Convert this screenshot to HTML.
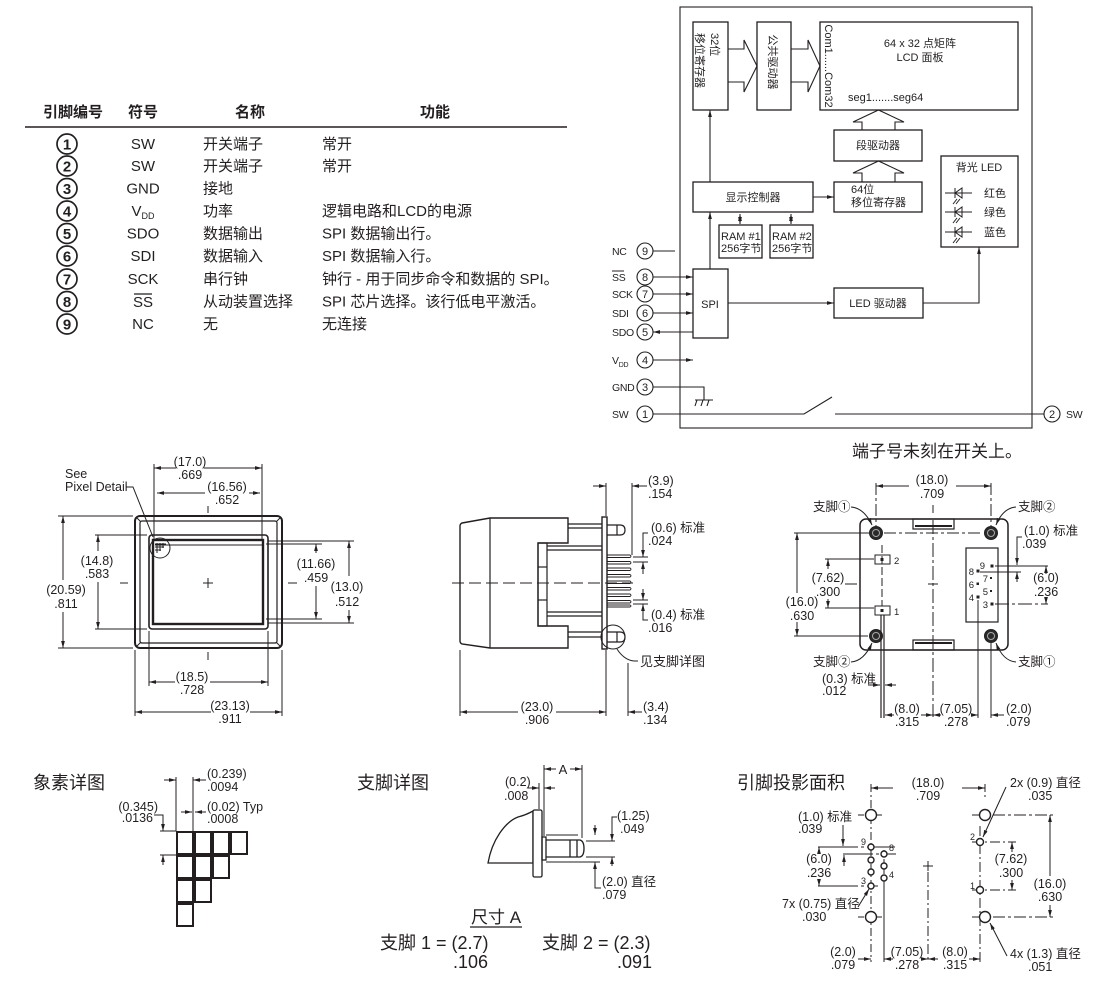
<!DOCTYPE html>
<html><head><meta charset="utf-8"><style>
html,body{margin:0;padding:0;background:#fff;}
svg{display:block;}
text{font-family:"Liberation Sans","Noto Sans CJK SC",sans-serif;fill:#231f20;stroke:none;}
</style></head><body>
<svg width="1100" height="982" viewBox="0 0 1100 982" xmlns="http://www.w3.org/2000/svg">
<defs>
<marker id="ar" viewBox="0 0 10 10" refX="10" refY="5" markerWidth="7" markerHeight="7" markerUnits="userSpaceOnUse" orient="auto-start-reverse"><path d="M0,2.3L10,5L0,7.7z" fill="#231f20" stroke="none"/></marker>
</defs>

<!-- ===== PIN TABLE ===== -->
<g font-size="15" font-weight="bold" text-anchor="middle">
<text x="73" y="117">引脚编号</text><text x="143" y="117">符号</text><text x="250" y="117">名称</text><text x="435" y="117">功能</text>
</g>
<line x1="25" y1="127" x2="567" y2="127" stroke="#231f20" stroke-width="1.5"/>
<g stroke="#231f20" stroke-width="1.7" fill="none">
<circle cx="67" cy="144" r="10"/><circle cx="67" cy="166" r="10"/><circle cx="67" cy="188.5" r="10"/><circle cx="67" cy="211" r="10"/><circle cx="67" cy="233.5" r="10"/><circle cx="67" cy="256" r="10"/><circle cx="67" cy="279" r="10"/><circle cx="67" cy="301.5" r="10"/><circle cx="67" cy="324" r="10"/>
</g>
<g font-size="15" font-weight="bold" text-anchor="middle">
<text x="67" y="149.5">1</text><text x="67" y="171.5">2</text><text x="67" y="194">3</text><text x="67" y="216.5">4</text><text x="67" y="239">5</text><text x="67" y="261.5">6</text><text x="67" y="284.5">7</text><text x="67" y="307">8</text><text x="67" y="329.5">9</text>
</g>
<g font-size="15" text-anchor="middle">
<text x="143" y="149">SW</text><text x="143" y="171">SW</text><text x="143" y="193.5">GND</text>
<text x="143" y="216"><tspan>V</tspan><tspan font-size="9" dy="3">DD</tspan></text>
<text x="143" y="238.5">SDO</text><text x="143" y="261">SDI</text><text x="143" y="284">SCK</text><text x="143" y="307">SS</text><text x="143" y="329">NC</text>
</g>
<line x1="134" y1="294" x2="152" y2="294" stroke="#231f20" stroke-width="1.2"/>
<g font-size="15">
<text x="203" y="149">开关端子</text><text x="203" y="171">开关端子</text><text x="203" y="193.5">接地</text><text x="203" y="216">功率</text><text x="203" y="238.5">数据输出</text><text x="203" y="261">数据输入</text><text x="203" y="284">串行钟</text><text x="203" y="306.5">从动装置选择</text><text x="203" y="329">无</text>
</g>
<g font-size="15">
<text x="322" y="149">常开</text><text x="322" y="171">常开</text><text x="322" y="216">逻辑电路和LCD的电源</text><text x="322" y="238.5">SPI 数据输出行。</text><text x="322" y="261">SPI 数据输入行。</text><text x="322" y="284">钟行 - 用于同步命令和数据的 SPI。</text><text x="322" y="306.5">SPI 芯片选择。该行低电平激活。</text><text x="322" y="329">无连接</text>
</g>

<!-- ===== BLOCK DIAGRAM ===== -->
<g stroke="#231f20" stroke-width="1.1" fill="none">
<rect x="680" y="7" width="352" height="421"/>
<rect x="693" y="22" width="35" height="88" stroke-width="1.3"/>
<rect x="757" y="22" width="34" height="88" stroke-width="1.3"/>
<rect x="820" y="22" width="198" height="88" stroke-width="1.3"/>
<polyline points="728,49 744,49 744,40 757,66 744,92 744,82 728,82"/>
<polyline points="791,49 808,49 808,40 820,66 808,92 808,82 791,82"/>
<polyline points="862,130 862,122 853,122 878.5,110 904,122 895,122 895,130"/>
<polyline points="862,182 862,173 853,173 878.5,161 904,173 895,173 895,182"/>
<rect x="834" y="130" width="88" height="31" stroke-width="1.3"/>
<rect x="834" y="182" width="88" height="30" stroke-width="1.3"/>
<rect x="693" y="182" width="120" height="30" stroke-width="1.3"/>
<rect x="719" y="225" width="43" height="33" stroke-width="1.3"/>
<rect x="770" y="225" width="43" height="33" stroke-width="1.3"/>
<rect x="941" y="156" width="77" height="91" stroke-width="1.3"/>
<rect x="693" y="269" width="35" height="69" stroke-width="1.3"/>
<rect x="834" y="288" width="89" height="30" stroke-width="1.3"/>
<line x1="813" y1="197" x2="834" y2="197" marker-end="url(#ar)"/>
<line x1="710" y1="182" x2="710" y2="110" marker-end="url(#ar)"/>
<line x1="710" y1="269" x2="710" y2="212" marker-end="url(#ar)"/>
<line x1="740" y1="214" x2="740" y2="224" marker-start="url(#ar)" marker-end="url(#ar)"/>
<line x1="791" y1="214" x2="791" y2="224" marker-start="url(#ar)" marker-end="url(#ar)"/>
<line x1="728" y1="303" x2="834" y2="303" marker-end="url(#ar)"/>
<polyline points="923,303 979,303 979,247" marker-end="url(#ar)"/>
<!-- LEDs -->
<g stroke-width="1">
<line x1="945" y1="193" x2="972" y2="193"/><polygon points="962,188 962,198 955,193"/><line x1="955" y1="188" x2="955" y2="198"/><line x1="957" y1="199" x2="953" y2="204"/><line x1="960" y1="199" x2="956" y2="204"/>
<line x1="945" y1="212" x2="972" y2="212"/><polygon points="962,207 962,217 955,212"/><line x1="955" y1="207" x2="955" y2="217"/><line x1="957" y1="218" x2="953" y2="223"/><line x1="960" y1="218" x2="956" y2="223"/>
<line x1="945" y1="232" x2="972" y2="232"/><polygon points="962,227 962,237 955,232"/><line x1="955" y1="227" x2="955" y2="237"/><line x1="957" y1="238" x2="953" y2="243"/><line x1="960" y1="238" x2="956" y2="243"/>
</g>
<!-- pins -->
<circle cx="645" cy="251" r="8"/><circle cx="645" cy="277" r="8"/><circle cx="645" cy="294" r="8"/><circle cx="645" cy="313" r="8"/><circle cx="645" cy="332" r="8"/><circle cx="645" cy="360" r="8"/><circle cx="645" cy="387" r="8"/><circle cx="645" cy="414" r="8"/><circle cx="1052" cy="414" r="8"/>
<line x1="653" y1="251" x2="675" y2="251"/>
<line x1="653" y1="277" x2="693" y2="277" marker-end="url(#ar)"/>
<line x1="653" y1="294" x2="693" y2="294" marker-end="url(#ar)"/>
<line x1="653" y1="313" x2="693" y2="313" marker-end="url(#ar)"/>
<line x1="693" y1="332" x2="653" y2="332" marker-end="url(#ar)"/>
<line x1="653" y1="360" x2="693" y2="360" marker-end="url(#ar)"/>
<polyline points="653,387 704,387 704,400"/>
<line x1="695" y1="400" x2="713" y2="400"/>
<line x1="697" y1="400" x2="695" y2="406"/><line x1="703" y1="400" x2="701" y2="406"/><line x1="709" y1="400" x2="707" y2="406"/>
<polyline points="653,414 804,414 832,397"/>
<line x1="835" y1="414" x2="1044" y2="414"/>
</g>
<g font-size="11" text-anchor="middle">
<text x="0" y="0" transform="rotate(90 710 63)"><tspan x="680" y="62" text-anchor="start">32位</tspan><tspan x="680" y="77" text-anchor="start">移位寄存器</tspan></text>
<text x="774" y="67" transform="rotate(90 774 62)">公共驱动器</text>
<text x="829" y="70" transform="rotate(90 829 66)">Com1......Com32</text>
<text x="920" y="47">64 x 32 点矩阵</text><text x="920" y="61">LCD 面板</text>
<text x="878" y="149">段驱动器</text>
<text x="753" y="201">显示控制器</text>
<text x="979" y="171">背光 LED</text>
<text x="710" y="308">SPI</text>
<text x="878" y="307">LED 驱动器</text>
<text x="645" y="255">9</text><text x="645" y="281">8</text><text x="645" y="298">7</text><text x="645" y="317">6</text><text x="645" y="336">5</text><text x="645" y="364">4</text><text x="645" y="391">3</text><text x="645" y="418">1</text><text x="1052" y="418">2</text>
</g>
<g font-size="11">
<text x="848" y="101">seg1.......seg64</text>
<text x="851" y="193">64位</text><text x="851" y="206">移位寄存器</text>
<text x="721" y="240">RAM #1</text><text x="721" y="252">256字节</text>
<text x="772" y="240">RAM #2</text><text x="772" y="252">256字节</text>
<text x="984" y="197">红色</text><text x="984" y="216">绿色</text><text x="984" y="236">蓝色</text>
</g>
<g font-size="10.5" letter-spacing="-0.3">
<text x="612" y="255">NC</text><text x="612" y="281">SS</text><text x="612" y="298">SCK</text><text x="612" y="317">SDI</text><text x="612" y="336">SDO</text>
<text x="612" y="364">V<tspan font-size="7" dy="3">DD</tspan></text>
<text x="612" y="391">GND</text><text x="612" y="418">SW</text><text x="1066" y="418">SW</text>
</g>
<line x1="612" y1="271" x2="624" y2="271" stroke="#231f20" stroke-width="1"/>
<text x="852" y="457" font-size="17">端子号未刻在开关上。</text>

<!-- ===== FRONT VIEW ===== -->
<g stroke="#231f20" fill="none" stroke-width="1">
<rect x="135" y="516" width="147" height="132" rx="5" stroke-width="2"/>
<rect x="140" y="521" width="137" height="122" rx="2" stroke-width="1.2"/>
<line x1="136" y1="517" x2="141" y2="522"/><line x1="281" y1="517" x2="276" y2="522"/><line x1="136" y1="647" x2="141" y2="642"/><line x1="281" y1="647" x2="276" y2="642"/>
<rect x="149" y="535" width="119" height="94" rx="3" stroke-width="1.6"/>
<rect x="153" y="540" width="110" height="84" stroke-width="2.4"/>
<line x1="155" y1="545" x2="262" y2="545"/>
<line x1="203" y1="583" x2="213" y2="583"/><line x1="208" y1="578" x2="208" y2="588"/>
<line x1="208" y1="506" x2="208" y2="513"/><line x1="208" y1="652" x2="208" y2="660"/>
<line x1="120" y1="583" x2="128" y2="583"/><line x1="288" y1="583" x2="297" y2="583"/>
<!-- 17.0 -->
<line x1="154" y1="464" x2="154" y2="540"/><line x1="262" y1="464" x2="262" y2="540"/>
<line x1="176" y1="468" x2="154" y2="468" marker-end="url(#ar)"/><line x1="204" y1="468" x2="262" y2="468" marker-end="url(#ar)"/>
<!-- 16.56 -->
<line x1="205" y1="493" x2="157" y2="493" marker-end="url(#ar)"/><line x1="249" y1="493" x2="260" y2="493" marker-end="url(#ar)"/>
<!-- see pixel -->
<polyline points="126,487 133,487 153,537"/>
<circle cx="160" cy="548" r="10"/>
<path d="M155,544 L166,544 M155,547 L164,547 M155,550 L161,550 M157,543 L157,553 M160,543 L160,551 M163,543 L163,548"/>
<!-- 20.59 -->
<line x1="58" y1="516" x2="133" y2="516"/><line x1="58" y1="648" x2="133" y2="648"/>
<line x1="63" y1="580" x2="63" y2="516" marker-end="url(#ar)"/><line x1="63" y1="612" x2="63" y2="648" marker-end="url(#ar)"/>
<!-- 14.8 -->
<line x1="95" y1="535" x2="147" y2="535"/><line x1="95" y1="629" x2="147" y2="629"/>
<line x1="98" y1="551" x2="98" y2="535" marker-end="url(#ar)"/><line x1="98" y1="582" x2="98" y2="629" marker-end="url(#ar)"/>
<!-- 11.66 -->
<line x1="266" y1="544" x2="322" y2="544"/><line x1="266" y1="619" x2="322" y2="619"/>
<line x1="316" y1="553" x2="316" y2="544" marker-end="url(#ar)"/><line x1="316" y1="586" x2="316" y2="619" marker-end="url(#ar)"/>
<!-- 13.0 -->
<line x1="268" y1="541" x2="354" y2="541"/><line x1="268" y1="623" x2="354" y2="623"/>
<line x1="349" y1="576" x2="349" y2="541" marker-end="url(#ar)"/><line x1="349" y1="610" x2="349" y2="623" marker-end="url(#ar)"/>
<!-- 18.5 -->
<line x1="149" y1="631" x2="149" y2="686"/><line x1="268" y1="631" x2="268" y2="686"/>
<line x1="175" y1="682" x2="149" y2="682" marker-end="url(#ar)"/><line x1="210" y1="682" x2="268" y2="682" marker-end="url(#ar)"/>
<!-- 23.13 -->
<line x1="135" y1="650" x2="135" y2="716"/><line x1="282" y1="650" x2="282" y2="716"/>
<line x1="211" y1="712" x2="135" y2="712" marker-end="url(#ar)"/><line x1="250" y1="712" x2="282" y2="712" marker-end="url(#ar)"/>
</g>
<g font-size="12.5" text-anchor="middle">
<text x="190" y="466">(17.0)</text><text x="190" y="479">.669</text>
<text x="227" y="491">(16.56)</text><text x="227" y="504">.652</text>
<text x="66" y="594">(20.59)</text><text x="66" y="608">.811</text>
<text x="97" y="565">(14.8)</text><text x="97" y="578">.583</text>
<text x="316" y="568">(11.66)</text><text x="316" y="582">.459</text>
<text x="347" y="591">(13.0)</text><text x="347" y="606">.512</text>
<text x="192" y="681">(18.5)</text><text x="192" y="694">.728</text>
<text x="230" y="710">(23.13)</text><text x="230" y="723">.911</text>
</g>
<g font-size="12.5"><text x="65" y="478">See</text><text x="65" y="491">Pixel Detail</text></g>

<!-- ===== SIDE VIEW ===== -->
<g stroke="#231f20" fill="none" stroke-width="1.2">
<path d="M462,523 L490,518 L568,518 L568,543 L538,543 L538,626 L568,626 L568,648 L490,648 L462,644 Q460,643 460,641 L460,526 Q460,524 462,523 Z" stroke-width="1.4"/>
<line x1="490" y1="518" x2="490" y2="648"/>
<rect x="538" y="543" width="9" height="83"/>
<line x1="538" y1="567" x2="547" y2="567"/><line x1="538" y1="600" x2="547" y2="600"/>
<line x1="547" y1="546" x2="602" y2="546"/><line x1="547" y1="550" x2="602" y2="550"/>
<line x1="547" y1="612" x2="602" y2="612"/><line x1="547" y1="616" x2="602" y2="616"/>
<line x1="568" y1="524" x2="602" y2="524"/><line x1="568" y1="528" x2="602" y2="528"/>
<line x1="568" y1="632" x2="602" y2="632"/><line x1="568" y1="637" x2="602" y2="637"/>
<rect x="602" y="517" width="5" height="132" fill="#fff" stroke-width="1.4"/>
<path d="M607,525 L620,525 Q625,525 625,530 Q625,535 620,535 L607,535"/><line x1="617" y1="525" x2="617" y2="535"/>
<path d="M607,632 L620,632 Q625,632 625,637 Q625,642 620,642 L607,642"/><line x1="617" y1="632" x2="617" y2="642"/>
<g stroke-width="0.9">
<path d="M607,555 L630,555 Q632,556.2 630,557.5 L607,557.5"/>
<path d="M607,561.5 L630,561.5 Q632,562.7 630,564 L607,564"/>
<path d="M607,568 L630,568 Q632,569.2 630,570.5 L607,570.5"/>
<path d="M607,574.5 L630,574.5 Q632,575.7 630,577 L607,577"/>
<path d="M607,581 L630,581 Q632,582.2 630,583.5 L607,583.5"/>
<path d="M607,587.5 L630,587.5 Q632,588.7 630,590 L607,590"/>
<path d="M607,594 L630,594 Q632,595.2 630,596.5 L607,596.5"/>
<path d="M607,600.5 L630,600.5 Q632,601.7 630,603 L607,603"/>
<path d="M607,605 L630,605 Q632,606 630,607 L607,607"/>
</g>
<line x1="452" y1="583" x2="633" y2="583" stroke-dasharray="12 5" stroke-width="1"/>
<circle cx="613" cy="637" r="12" stroke-width="1"/>
<path d="M617,649 Q624,660 634,661 L638,661" stroke-width="1"/>
<g stroke-width="1">
<line x1="606" y1="483" x2="606" y2="516"/><line x1="632" y1="483" x2="632" y2="555"/>
<line x1="593" y1="486" x2="606" y2="486" marker-end="url(#ar)"/><line x1="647" y1="486" x2="632" y2="486" marker-end="url(#ar)"/>
<line x1="633" y1="557" x2="648" y2="557"/><line x1="633" y1="562" x2="648" y2="562"/>
<polyline points="648,533 643,533 643,557" marker-end="url(#ar)"/><line x1="643" y1="574" x2="643" y2="562" marker-end="url(#ar)"/>
<line x1="633" y1="600" x2="648" y2="600"/><line x1="633" y1="604" x2="648" y2="604"/>
<line x1="643" y1="589" x2="643" y2="600" marker-end="url(#ar)"/><polyline points="648,620 643,620 643,604" marker-end="url(#ar)"/>
<line x1="460" y1="650" x2="460" y2="716"/><line x1="606" y1="650" x2="606" y2="716"/><line x1="628" y1="663" x2="628" y2="716"/>
<line x1="518" y1="712" x2="460" y2="712" marker-end="url(#ar)"/><line x1="556" y1="712" x2="606" y2="712" marker-end="url(#ar)"/>
<line x1="642" y1="712" x2="628" y2="712" marker-end="url(#ar)"/>
</g>
</g>
<g font-size="12.5">
<text x="648" y="485">(3.9)</text><text x="648" y="498">.154</text>
<text x="651" y="532">(0.6) 标准</text><text x="648" y="545">.024</text>
<text x="651" y="619">(0.4) 标准</text><text x="648" y="632">.016</text>
<text x="643" y="711">(3.4)</text><text x="643" y="724">.134</text>
<text x="537" y="711" text-anchor="middle">(23.0)</text><text x="537" y="724" text-anchor="middle">.906</text>
</g>
<text x="640" y="666" font-size="13">见支脚详图</text>

<!-- ===== BACK VIEW ===== -->
<g stroke="#231f20" fill="none" stroke-width="1">
<rect x="860" y="519" width="148" height="131" rx="6" stroke-width="1.5"/>
<rect x="913" y="519" width="41" height="10" stroke-width="1.2"/><line x1="915" y1="526" x2="952" y2="526" stroke-width="2"/>
<rect x="913" y="640" width="41" height="10" stroke-width="1.2"/><line x1="915" y1="643" x2="952" y2="643" stroke-width="2"/>
<line x1="876" y1="483" x2="876" y2="526" stroke-dasharray="12 3 3 3"/><line x1="991" y1="483" x2="991" y2="526" stroke-dasharray="12 3 3 3"/>
<line x1="933" y1="505" x2="933" y2="513"/>
<line x1="933" y1="520" x2="933" y2="717" stroke-dasharray="14 3 3 3"/>
<line x1="928" y1="584" x2="938" y2="584"/>
<line x1="845" y1="584" x2="857" y2="584"/>
<line x1="882" y1="545" x2="882" y2="606" stroke-dasharray="8 3"/>
<g>
<circle cx="876" cy="533" r="6.5" fill="#2a2a2a"/><circle cx="991" cy="533" r="6.5" fill="#2a2a2a"/><circle cx="876" cy="636" r="6.5" fill="#2a2a2a"/><circle cx="991" cy="636" r="6.5" fill="#2a2a2a"/>
<circle cx="876" cy="533" r="3.5" stroke="#aaa"/><circle cx="991" cy="533" r="3.5" stroke="#aaa"/><circle cx="876" cy="636" r="3.5" stroke="#aaa"/><circle cx="991" cy="636" r="3.5" stroke="#aaa"/>
</g>
<rect x="875" y="555" width="15" height="9"/><rect x="875" y="606" width="15" height="9"/>
<rect x="881" y="558.5" width="2" height="2" fill="#231f20"/><rect x="881" y="609.5" width="2" height="2" fill="#231f20"/>
<rect x="966" y="548" width="32" height="74" stroke-width="1.2"/>
<g fill="#231f20" stroke="none">
<rect x="990.5" y="564.5" width="3" height="3"/><rect x="976.5" y="569.5" width="3" height="3"/><rect x="990" y="577" width="2" height="2"/><rect x="976.5" y="582.5" width="2.5" height="2.5"/><rect x="990" y="590" width="2" height="2"/><rect x="976.5" y="595.5" width="3" height="3"/><rect x="990.5" y="602.5" width="3" height="3"/>
</g>
<line x1="909" y1="486" x2="876" y2="486" marker-end="url(#ar)"/><line x1="956" y1="486" x2="991" y2="486" marker-end="url(#ar)"/>
<path d="M851,507 Q864,508 872,525" marker-end="url(#ar)"/>
<path d="M1016,507 Q1003,508 996,525" marker-end="url(#ar)"/>
<path d="M851,662 Q864,661 872,643" marker-end="url(#ar)"/>
<path d="M1016,662 Q1003,661 996,643" marker-end="url(#ar)"/>
<line x1="794" y1="533" x2="870" y2="533"/><line x1="884" y1="533" x2="983" y2="533" stroke-dasharray="12 3 3 3"/>
<line x1="794" y1="636" x2="868" y2="636"/>
<line x1="797" y1="593" x2="797" y2="533" marker-end="url(#ar)"/><line x1="797" y1="622" x2="797" y2="636" marker-end="url(#ar)"/>
<line x1="825" y1="559" x2="874" y2="559"/><line x1="825" y1="608" x2="874" y2="608"/>
<line x1="828" y1="569" x2="828" y2="559" marker-end="url(#ar)"/><line x1="828" y1="599" x2="828" y2="608" marker-end="url(#ar)"/>
<polyline points="1022,537 1017,537 1017,565" marker-end="url(#ar)"/>
<line x1="995" y1="566" x2="1048" y2="566"/><line x1="980" y1="572" x2="1021" y2="572"/>
<line x1="1017" y1="582" x2="1017" y2="572" marker-end="url(#ar)"/>
<line x1="1046" y1="574" x2="1046" y2="566" marker-end="url(#ar)"/><line x1="1046" y1="598" x2="1046" y2="604" marker-end="url(#ar)"/>
<line x1="995" y1="604" x2="1048" y2="604" stroke-dasharray="14 3 3 3"/>
<line x1="881" y1="615" x2="881" y2="718" stroke-width="1.2"/><line x1="884" y1="615" x2="884" y2="718" stroke-width="1.2"/>
<line x1="868" y1="685" x2="880" y2="685" marker-end="url(#ar)"/><line x1="896" y1="685" x2="885" y2="685" marker-end="url(#ar)"/>
<line x1="978" y1="600" x2="978" y2="718"/><line x1="991" y1="643" x2="991" y2="718"/>
<line x1="894" y1="715" x2="885" y2="715" marker-end="url(#ar)"/><line x1="921" y1="715" x2="933" y2="715" marker-end="url(#ar)"/>
<line x1="941" y1="715" x2="933" y2="715" marker-end="url(#ar)"/><line x1="971" y1="715" x2="978" y2="715" marker-end="url(#ar)"/>
<line x1="1004" y1="715" x2="991" y2="715" marker-end="url(#ar)"/>
</g>
<g font-size="12.5" text-anchor="middle">
<text x="932" y="484">(18.0)</text><text x="932" y="498">.709</text>
<text x="802" y="606">(16.0)</text><text x="802" y="620">.630</text>
<text x="828" y="582">(7.62)</text><text x="828" y="596">.300</text>
<text x="1046" y="582">(6.0)</text><text x="1046" y="596">.236</text>
<text x="907" y="713">(8.0)</text><text x="907" y="726">.315</text>
<text x="956" y="713">(7.05)</text><text x="956" y="726">.278</text>
</g>
<g font-size="12.5">
<text x="813" y="511">支脚①</text><text x="1018" y="511">支脚②</text>
<text x="813" y="666">支脚②</text><text x="1018" y="666">支脚①</text>
<text x="1024" y="535">(1.0) 标准</text><text x="1022" y="548">.039</text>
<text x="822" y="683">(0.3) 标准</text><text x="822" y="695">.012</text>
<text x="1006" y="713">(2.0)</text><text x="1006" y="726">.079</text>
</g>
<g font-size="9.5">
<text x="894" y="564">2</text><text x="894" y="615">1</text>
<text x="985" y="569" text-anchor="end">9</text><text x="974" y="575" text-anchor="end">8</text><text x="988" y="582" text-anchor="end">7</text><text x="974" y="588" text-anchor="end">6</text><text x="988" y="595" text-anchor="end">5</text><text x="974" y="601" text-anchor="end">4</text><text x="988" y="608" text-anchor="end">3</text>
</g>

<!-- ===== PIXEL DETAIL ===== -->
<text x="33" y="789" font-size="18">象素详图</text>
<g stroke="#231f20" fill="none" stroke-width="2">
<rect x="177" y="832" width="16" height="22"/><rect x="195" y="832" width="16" height="22"/><rect x="213" y="832" width="16" height="22"/><rect x="231" y="832" width="16" height="22"/>
<rect x="177" y="856" width="16" height="22"/><rect x="195" y="856" width="16" height="22"/><rect x="213" y="856" width="16" height="22"/>
<rect x="177" y="880" width="16" height="22"/><rect x="195" y="880" width="16" height="22"/>
<rect x="177" y="904" width="16" height="22"/>
</g>
<g stroke="#231f20" fill="none" stroke-width="1">
<line x1="176" y1="777" x2="176" y2="831"/><line x1="193" y1="777" x2="193" y2="831"/>
<line x1="164" y1="780" x2="176" y2="780" marker-end="url(#ar)"/><line x1="206" y1="780" x2="193" y2="780" marker-end="url(#ar)"/>
<line x1="181" y1="812" x2="192" y2="812" marker-end="url(#ar)"/><line x1="206" y1="812" x2="195" y2="812" marker-end="url(#ar)"/>
<line x1="160" y1="831" x2="176" y2="831"/><line x1="160" y1="855" x2="176" y2="855"/>
<polyline points="154,815 163,815 163,831" marker-end="url(#ar)"/>
<line x1="163" y1="865" x2="163" y2="855" marker-end="url(#ar)"/>
</g>
<g font-size="12.5">
<text x="207" y="778">(0.239)</text><text x="207" y="791">.0094</text>
<text x="207" y="811">(0.02) Typ</text><text x="207" y="823">.0008</text>
<text x="158" y="811" text-anchor="end">(0.345)</text><text x="153" y="822" text-anchor="end">.0136</text>
</g>

<!-- ===== LEG DETAIL ===== -->
<text x="357" y="789" font-size="18">支脚详图</text>
<g stroke="#231f20" fill="none" stroke-width="1.3">
<path d="M488,863 C492,840 505,822 518,817 Q526,815 533,811 L533,863 Z"/>
<rect x="533" y="810" width="9" height="67" rx="1.5" fill="#fff"/>
<rect x="542" y="837" width="4" height="23"/>
<path d="M546,840 L580,840 Q584,841 584,848.5 Q584,856 580,857 L546,857"/>
<line x1="570" y1="840" x2="570" y2="857"/><line x1="577" y1="840" x2="577" y2="857"/>
</g>
<g stroke="#231f20" fill="none" stroke-width="1">
<line x1="544" y1="765" x2="544" y2="836"/><line x1="582" y1="765" x2="582" y2="838"/>
<line x1="556" y1="769" x2="544" y2="769" marker-end="url(#ar)"/><line x1="570" y1="769" x2="582" y2="769" marker-end="url(#ar)"/>
<line x1="539" y1="783" x2="539" y2="809"/>
<line x1="528" y1="788" x2="539" y2="788" marker-end="url(#ar)"/><line x1="555" y1="788" x2="544" y2="788" marker-end="url(#ar)"/>
<line x1="546" y1="835" x2="578" y2="835"/><line x1="546" y1="862" x2="600" y2="862"/>
<line x1="586" y1="841" x2="615" y2="841"/><line x1="586" y1="857" x2="615" y2="857"/>
<line x1="595" y1="825" x2="595" y2="835" marker-end="url(#ar)"/>
<polyline points="617,817 612,817 612,841" marker-end="url(#ar)"/>
<line x1="612" y1="866" x2="612" y2="857" marker-end="url(#ar)"/>
<polyline points="601,888 595,888 595,862" marker-end="url(#ar)"/>
<line x1="470" y1="927" x2="522" y2="927" stroke-width="1.3"/>
</g>
<text x="563" y="774" font-size="13" text-anchor="middle">A</text>
<g font-size="12.5">
<text x="505" y="786">(0.2)</text><text x="504" y="800">.008</text>
<text x="617" y="820">(1.25)</text><text x="620" y="833">.049</text>
<text x="602" y="886">(2.0) 直径</text><text x="602" y="899">.079</text>
</g>
<text x="496" y="923" font-size="17" text-anchor="middle">尺寸 A</text>
<g font-size="18">
<text x="380" y="949">支脚 1 = (2.7)</text><text x="453" y="968">.106</text>
<text x="542" y="949">支脚 2 = (2.3)</text><text x="617" y="968">.091</text>
</g>

<!-- ===== FOOTPRINT ===== -->
<text x="737" y="789" font-size="18">引脚投影面积</text>
<g stroke="#231f20" fill="none" stroke-width="1">
<line x1="871" y1="784" x2="871" y2="962" stroke-dasharray="8 3 2 3"/>
<line x1="985" y1="784" x2="985" y2="800" stroke-dasharray="8 3 2 3"/>
<line x1="980" y1="826" x2="980" y2="962" stroke-dasharray="10 3 2 3"/>
<line x1="884" y1="850" x2="884" y2="880" stroke-dasharray="6 3"/>
<line x1="884" y1="880" x2="884" y2="962"/>
<line x1="928" y1="872" x2="928" y2="962" stroke-dasharray="10 3 2 3"/>
<line x1="923" y1="866" x2="933" y2="866"/><line x1="928" y1="861" x2="928" y2="871"/>
<line x1="858" y1="815" x2="884" y2="815" stroke-dasharray="6 3"/><line x1="972" y1="815" x2="1053" y2="815" stroke-dasharray="12 3 3 3"/>
<line x1="858" y1="917" x2="884" y2="917" stroke-dasharray="6 3"/><line x1="972" y1="917" x2="1053" y2="917" stroke-dasharray="12 3 3 3"/>
<line x1="972" y1="842" x2="1016" y2="842" stroke-dasharray="10 3 2 3"/><line x1="972" y1="890" x2="1016" y2="890" stroke-dasharray="10 3 2 3"/>
<line x1="818" y1="847" x2="895" y2="847" stroke-dasharray="40 3 3 3"/>
<line x1="843" y1="854" x2="896" y2="854" stroke-dasharray="30 3 3 3"/>
<line x1="818" y1="886" x2="878" y2="886" stroke-dasharray="40 3 3 3"/>
<g fill="#fff" stroke-width="1.4">
<circle cx="871" cy="815" r="5.5"/><circle cx="985" cy="815" r="5.5"/><circle cx="871" cy="917" r="5.5"/><circle cx="985" cy="917" r="5.5"/>
<circle cx="871" cy="847" r="3"/><circle cx="884" cy="854" r="3"/><circle cx="871" cy="860" r="3"/><circle cx="884" cy="866" r="3"/><circle cx="871" cy="872" r="3"/><circle cx="884" cy="878" r="3"/><circle cx="871" cy="886" r="3"/>
<circle cx="980" cy="842" r="3.5"/><circle cx="980" cy="890" r="3.5"/>
</g>
<line x1="893" y1="788" x2="871" y2="788" marker-end="url(#ar)"/><line x1="962" y1="788" x2="985" y2="788" marker-end="url(#ar)"/>
<line x1="843" y1="825" x2="843" y2="846" marker-end="url(#ar)"/>
<line x1="844" y1="866" x2="844" y2="855" marker-end="url(#ar)"/>
<line x1="819" y1="854" x2="819" y2="847" marker-end="url(#ar)"/><line x1="819" y1="880" x2="819" y2="886" marker-end="url(#ar)"/>
<line x1="858" y1="907" x2="869" y2="889" marker-end="url(#ar)"/>
<line x1="1006" y1="787" x2="983" y2="837" marker-end="url(#ar)"/>
<line x1="1012" y1="852" x2="1012" y2="842" marker-end="url(#ar)"/><line x1="1012" y1="880" x2="1012" y2="890" marker-end="url(#ar)"/>
<line x1="1050" y1="876" x2="1050" y2="815" marker-end="url(#ar)"/><line x1="1050" y1="905" x2="1050" y2="917" marker-end="url(#ar)"/>
<line x1="1007" y1="956" x2="990" y2="923" marker-end="url(#ar)"/>
<line x1="858" y1="959" x2="871" y2="959" marker-end="url(#ar)"/>
<line x1="893" y1="959" x2="884" y2="959" marker-end="url(#ar)"/>
<line x1="921" y1="959" x2="928" y2="959" marker-end="url(#ar)"/>
<line x1="938" y1="959" x2="928" y2="959" marker-end="url(#ar)"/>
<line x1="969" y1="959" x2="980" y2="959" marker-end="url(#ar)"/>
</g>
<g font-size="12.5" text-anchor="middle">
<text x="928" y="787">(18.0)</text><text x="928" y="800">.709</text>
<text x="819" y="863">(6.0)</text><text x="819" y="877">.236</text>
<text x="1011" y="863">(7.62)</text><text x="1011" y="877">.300</text>
<text x="1050" y="888">(16.0)</text><text x="1050" y="901">.630</text>
<text x="843" y="956">(2.0)</text><text x="843" y="969">.079</text>
<text x="907" y="956">(7.05)</text><text x="907" y="969">.278</text>
<text x="955" y="956">(8.0)</text><text x="955" y="969">.315</text>
</g>
<g font-size="12.5">
<text x="798" y="821">(1.0) 标准</text><text x="798" y="833">.039</text>
<text x="782" y="908">7x (0.75) 直径</text><text x="802" y="921">.030</text>
<text x="1010" y="787">2x (0.9) 直径</text><text x="1028" y="800">.035</text>
<text x="1010" y="958">4x (1.3) 直径</text><text x="1028" y="971">.051</text>
</g>
<g font-size="9">
<text x="866" y="845" text-anchor="end">9</text><text x="889" y="851">8</text><text x="866" y="884" text-anchor="end">3</text><text x="889" y="878">4</text>
<text x="975" y="840" text-anchor="end">2</text><text x="975" y="889" text-anchor="end">1</text>
</g>
</svg>
</body></html>
